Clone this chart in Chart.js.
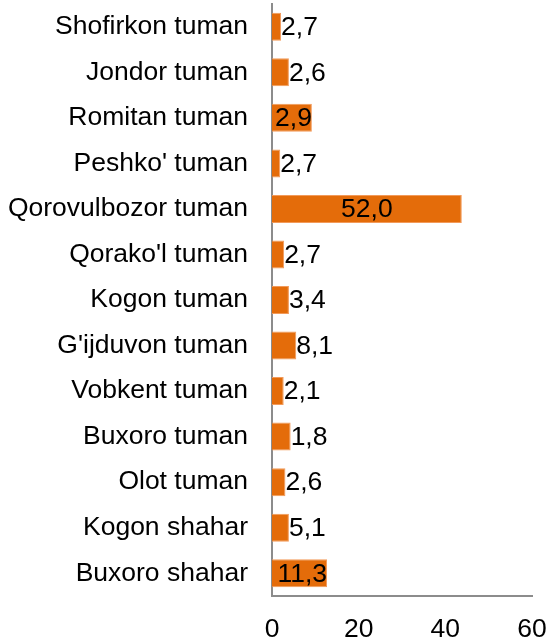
<!DOCTYPE html>
<html>
<head>
<meta charset="utf-8">
<script src="https://cdn.jsdelivr.net/npm/chart.js@4"></script>
<style>
  body { margin: 0; background: #fff; }
  #wrap { width: 549px; height: 638px; }
</style>
</head>
<body>
<div id="wrap"><canvas id="myChart" width="549" height="638"></canvas></div>
<script>
// categories (top to bottom)
const districts = [
    'Shofirkon tuman', 'Jondor tuman', 'Romitan tuman', "Peshko' tuman",
    'Qorovulbozor tuman', "Qorako'l tuman", 'Kogon tuman', "G'ijduvon tuman",
    'Vobkent tuman', 'Buxoro tuman', 'Olot tuman', 'Kogon shahar', 'Buxoro shahar'
];
// bar lengths as drawn
const barValues = [2.1, 3.9, 9.2, 1.9, 43.8, 2.8, 3.9, 5.6, 2.7, 4.3, 3.1, 3.9, 12.7];
// data label texts as printed
const labelTexts = ['2,7', '2,6', '2,9', '2,7', '52,0', '2,7', '3,4', '8,1', '2,1', '1,8', '2,6', '5,1', '11,3'];
// x axis ticks
const xTicks = [0, 20, 40, 60];

const FONT = "'Liberation Sans', Arial, sans-serif";
const FONT_SIZE = 26.5;

// draws the labels next to / inside the bars
const barLabels = {
    id: 'barLabels',
    afterDatasetsDraw(chart) {
        const ctx = chart.ctx;
        const meta = chart.getDatasetMeta(0);
        ctx.save();
        ctx.font = FONT_SIZE + 'px ' + FONT;
        ctx.fillStyle = '#000';
        ctx.textBaseline = 'middle';
        meta.data.forEach((bar, i) => {
            const txt = labelTexts[i];
            const w = ctx.measureText(txt).width;
            const v = barValues[i];
            let x;
            if (v > 20) {
                x = (bar.base + bar.x) / 2 - w / 2;
            } else if (v > 9) {
                x = bar.x - w;
            } else {
                x = bar.x;
            }
            ctx.fillText(txt, x, bar.y + 1);
        });
        ctx.restore();
    }
};

const ctx = document.getElementById('myChart').getContext('2d');
const myChart = new Chart(ctx, {
    type: 'bar',
    data: {
        labels: districts,
        datasets: [{
            data: barValues,
            backgroundColor: '#E46C0A',
            borderColor: '#F29A5A',
            borderWidth: 1,
            barPercentage: 0.615,
            categoryPercentage: 1
        }]
    },
    options: {
        indexAxis: 'y',
        responsive: false,
        animation: false,
        layout: { padding: { top: 4, left: 0, right: 17, bottom: 0 } },
        plugins: {
            legend: { display: false },
            tooltip: { enabled: false }
        },
        scales: {
            x: {
                min: 0,
                max: 60,
                afterBuildTicks: (scale) => {
                    scale.ticks = xTicks.map(v => ({ value: v }));
                },
                afterFit: (scale) => {
                    scale.height = 42;
                    scale.paddingLeft = 0;
                    scale.paddingRight = 0;
                },
                grid: { display: false, drawTicks: false },
                border: { display: true, color: '#8c8c8c', width: 2 },
                ticks: {
                    color: '#000',
                    font: { family: FONT, size: FONT_SIZE },
                    padding: 18,
                    maxRotation: 0
                }
            },
            y: {
                afterFit: (scale) => {
                    scale.width = 272;
                    scale.paddingTop = 0;
                    scale.paddingBottom = 0;
                },
                grid: { display: false, drawTicks: false },
                border: { display: true, color: '#8c8c8c', width: 2 },
                ticks: {
                    color: '#000',
                    font: { family: FONT, size: FONT_SIZE },
                    padding: 24,
                    autoSkip: false
                }
            }
        }
    },
    plugins: [barLabels]
});
</script>
</body>
</html>
